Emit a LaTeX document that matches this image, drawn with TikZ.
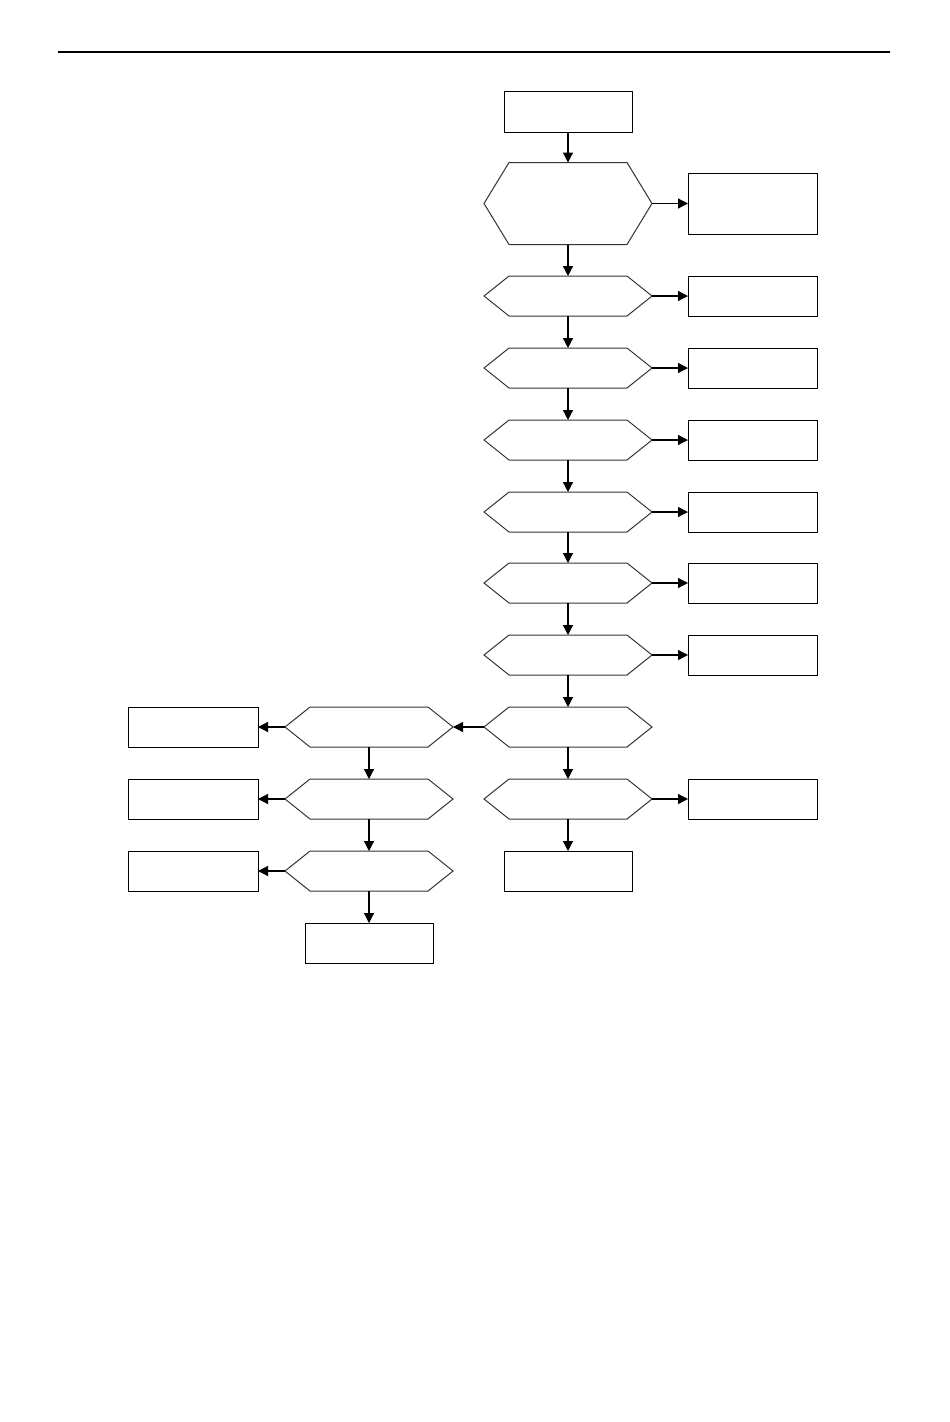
\documentclass[tikz,border=0pt]{standalone}
\usetikzlibrary{arrows.meta}
\begin{document}
\begin{tikzpicture}[x=1pt,y=-1pt,
  box/.style={draw=black, line width=1pt, minimum width=128pt, minimum height=40pt, inner sep=0pt, outer sep=0pt},
  hexbase/.style={minimum width=168pt, minimum height=40pt, inner sep=0pt, outer sep=0pt},
  hexline/.style={draw=black!80, line width=1pt, line join=miter},
  arr/.style={line width=1.2pt, -{Triangle[length=10pt,width=10pt]}},
  rule/.style={line width=2pt}]
\useasboundingbox (0,0) rectangle (950,1422);
\newcommand{\hexnode}[4]{%
  \node[hexbase, minimum height=#4] (#1) at (#2,#3) {};
  \draw[hexline] (#1.west) -- ([xshift=25pt]#1.north west) -- ([xshift=-25pt]#1.north east) -- (#1.east) -- ([xshift=-25pt]#1.south east) -- ([xshift=25pt]#1.south west) -- cycle;
}
% top rule
\coordinate (rl) at (58,52);
\coordinate (rr) at (890,52);
\draw[rule] (rl) -- (rr);
% main column
\node[box, minimum height=41pt] (start) at (568,111.5) {};
\hexnode{h1}{568}{203.5}{82}
\hexnode{h2}{568}{296}{40}
\hexnode{h3}{568}{368}{40}
\hexnode{h4}{568}{440}{40}
\hexnode{h5}{568}{512}{40}
\hexnode{h6}{568}{583}{40}
\hexnode{h7}{568}{655}{40}
\hexnode{h8}{568}{727}{40}
\hexnode{h9}{568}{799}{40}
\node[box] (endm) at (568,871) {};
% right boxes
\node[box, minimum width=129pt, minimum height=61pt] (r1) at (752.5,203.5) {};
\node[box, minimum width=129pt] (r2) at (752.5,296) {};
\node[box, minimum width=129pt] (r3) at (752.5,368) {};
\node[box, minimum width=129pt] (r4) at (752.5,440) {};
\node[box, minimum width=129pt] (r5) at (752.5,512) {};
\node[box, minimum width=129pt] (r6) at (752.5,583) {};
\node[box, minimum width=129pt] (r7) at (752.5,655) {};
\node[box, minimum width=129pt] (r9) at (752.5,799) {};
% left column
\hexnode{l1}{369}{727}{40}
\hexnode{l2}{369}{799}{40}
\hexnode{l3}{369}{871}{40}
\node[box] (endl) at (369,943) {};
\node[box, minimum width=130pt] (b1) at (193,727) {};
\node[box, minimum width=130pt] (b2) at (193,799) {};
\node[box, minimum width=130pt] (b3) at (193,871) {};
% vertical arrows main
\draw[arr] (start) -- (h1.north);
\draw[arr] (h1.south) -- (h2.north);
\draw[arr] (h2.south) -- (h3.north);
\draw[arr] (h3.south) -- (h4.north);
\draw[arr] (h4.south) -- (h5.north);
\draw[arr] (h5.south) -- (h6.north);
\draw[arr] (h6.south) -- (h7.north);
\draw[arr] (h7.south) -- (h8.north);
\draw[arr] (h8.south) -- (h9.north);
\draw[arr] (h9.south) -- (endm);
% right arrows
\draw[arr] (h1.east) -- (r1.west);
\draw[arr] (h2.east) -- (r2.west);
\draw[arr] (h3.east) -- (r3.west);
\draw[arr] (h4.east) -- (r4.west);
\draw[arr] (h5.east) -- (r5.west);
\draw[arr] (h6.east) -- (r6.west);
\draw[arr] (h7.east) -- (r7.west);
\draw[arr] (h9.east) -- (r9.west);
% left branch
\draw[arr] (h8.west) -- (l1.east);
\draw[arr] (l1.south) -- (l2.north);
\draw[arr] (l2.south) -- (l3.north);
\draw[arr] (l3.south) -- (endl);
\draw[arr] (l1.west) -- (b1.east);
\draw[arr] (l2.west) -- (b2.east);
\draw[arr] (l3.west) -- (b3.east);
\end{tikzpicture}
\end{document}
